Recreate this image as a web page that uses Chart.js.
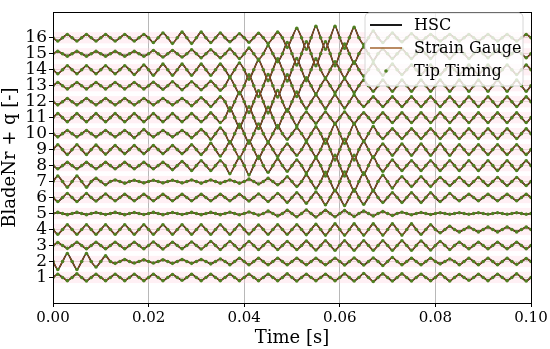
<!DOCTYPE html>
<html><head><meta charset="utf-8">
<script src="https://cdn.jsdelivr.net/npm/chart.js@4.4.0/dist/chart.umd.min.js"></script>
<style>html,body{margin:0;padding:0;background:#fff}#wrap{width:550px;height:349px}</style>
</head><body><div id="wrap"><canvas id="c" width="550" height="349"></canvas></div>
<script>
const blade1 = [0,.2,0,-.2, 0,.22,0,-.22, 0,.2,0,-.2, 0,.2,0,-.2, 0,.2,0,-.2, 0,.2,0,-.2, 0,.18,0,-.18, 0,.2,0,-.2, 0,.2,0,-.2, 0,.2,0,-.2, 0,.2,0,-.2, 0,.2,0,-.2, 0,.22,0,-.22, 0,.2,0,-.2, 0,.2,0,-.2, 0,.22,0,-.22, 0,.25,0,-.25, 0,.22,0,-.22, 0,.22,0,-.22, 0,.2,0,-.2, 0,.22,0,-.22, 0,.18,0,-.18, 0,.2,0,-.2, 0,.2,0,-.2, 0,.22,0,-.22, 0];
const blade2 = [0,-.5,0,.5, 0,-.5,0,.5, 0,-.35,0,.35, 0,-.12,0,.12, 0,-.1,0,.1, 0,-.1,0,.1, 0,-.12,0,.12, 0,-.12,0,.12, 0,-.15,0,.15, 0,-.2,0,.2, 0,-.2,0,.2, 0,-.2,0,.2, 0,-.2,0,.2, 0,-.2,0,.2, 0,-.2,0,.2, 0,-.22,0,.22, 0,-.22,0,.22, 0,-.25,0,.25, 0,-.2,0,.2, 0,-.2,0,.2, 0,-.15,0,.15, 0,-.2,0,.2, 0,-.2,0,.2, 0,-.2,0,.2, 0,-.18,0,.18, 0];
const blade3 = [0,.18,0,-.18, 0,.2,0,-.2, 0,.2,0,-.2, 0,.2,0,-.2, 0,.2,0,-.2, 0,.22,0,-.22, 0,.2,0,-.2, 0,.22,0,-.22, 0,.25,0,-.25, 0,.25,0,-.25, 0,.25,0,-.25, 0,.25,0,-.25, 0,.25,0,-.25, 0,.28,0,-.28, 0,.3,0,-.3, 0,.3,0,-.3, 0,.3,0,-.3, 0,.3,0,-.3, 0,.3,0,-.3, 0,.28,0,-.28, 0,.25,0,-.25, 0,.2,0,-.2, 0,.2,0,-.2, 0,.2,0,-.2, 0,.2,0,-.2, 0];
const blade4 = [0,-.3,0,.3, 0,-.3,0,.3, 0,-.3,0,.3, 0,-.3,0,.3, 0,-.3,0,.3, 0,-.3,0,.3, 0,-.3,0,.3, 0,-.3,0,.3, 0,-.3,0,.3, 0,-.3,0,.3, 0,-.28,0,.28, 0,-.3,0,.3, 0,-.3,0,.3, 0,-.32,0,.32, 0,-.35,0,.35, 0,-.35,0,.35, 0,-.35,0,.35, 0,-.35,0,.35, 0,-.35,0,.35, 0,-.3,0,.3, 0,-.2,0,.2, 0,-.15,0,.15, 0,-.15,0,.15, 0,-.15,0,.15, 0,-.15,0,.15, 0];
const blade5 = [0,.07,0,-.07, 0,.07,0,-.07, 0,.06,0,-.06, 0,.07,0,-.07, 0,.06,0,-.06, 0,.07,0,-.07, 0,.06,0,-.06, 0,.07,0,-.07, 0,.07,0,-.07, 0,.08,0,-.08, 0,.1,0,-.1, 0,.15,0,-.15, 0,.2,0,-.2, 0,.22,0,-.22, 0,.2,0,-.2, 0,.18,0,-.18, 0,.15,0,-.15, 0,.12,0,-.12, 0,.08,0,-.08, 0,.06,0,-.06, 0,.05,0,-.05, 0,.05,0,-.05, 0,.05,0,-.05, 0,.05,0,-.05, 0,.05,0,-.05, 0];
const blade6 = [0,-.25,0,.25, 0,-.25,0,.25, 0,-.22,0,.22, 0,-.2,0,.2, 0,-.2,0,.2, 0,-.2,0,.2, 0,-.2,0,.2, 0,-.2,0,.2, 0,-.2,0,.2, 0,-.2,0,.2, 0,-.22,0,.22, 0,-.25,0,.25, 0,-.3,0,.3, 0,-.35,0,.35, 0,-.45,0,.45, 0,-.5,0,.5, 0,-.42,0,.42, 0,-.3,0,.3, 0,-.3,0,.3, 0,-.3,0,.3, 0,-.25,0,.25, 0,-.2,0,.2, 0,-.2,0,.2, 0,-.2,0,.2, 0,-.2,0,.2, 0];
const blade7 = [0,.35,0,-.35, 0,.35,0,-.35, 0,.2,0,-.2, 0,.1,0,-.1, 0,.08,0,-.08, 0,.08,0,-.08, 0,.08,0,-.08, 0,.1,0,-.1, 0,.1,0,-.1, 0,.1,0,-.1, 0,.15,0,-.15, 0,.2,0,-.2, 0,.3,0,-.3, 0,.42,0,-.42, 0,.58,0,-.58, 0,.6,0,-.6, 0,.55,0,-.55, 0,.4,0,-.4, 0,.3,0,-.3, 0,.3,0,-.3, 0,.25,0,-.25, 0,.25,0,-.25, 0,.25,0,-.25, 0,.25,0,-.25, 0,.25,0,-.25, 0];
const blade8 = [0,-.2,0,.2, 0,-.2,0,.2, 0,-.2,0,.2, 0,-.2,0,.2, 0,-.2,0,.2, 0,-.2,0,.2, 0,-.25,0,.25, 0,-.3,0,.3, 0,-.3,0,.3, 0,-.5,0,.5, 0,-.58,0,.58, 0,-.42,0,.42, 0,-.35,0,.35, 0,-.45,0,.45, 0,-.65,0,.65, 0,-.65,0,.65, 0,-.55,0,.55, 0,-.35,0,.35, 0,-.3,0,.3, 0,-.3,0,.3, 0,-.3,0,.3, 0,-.3,0,.3, 0,-.3,0,.3, 0,-.3,0,.3, 0,-.3,0,.3, 0];
const blade9 = [0,.3,0,-.3, 0,.3,0,-.3, 0,.28,0,-.28, 0,.25,0,-.25, 0,.25,0,-.25, 0,.25,0,-.25, 0,.25,0,-.25, 0,.3,0,-.3, 0,.4,0,-.4, 0,.5,0,-.5, 0,.55,0,-.55, 0,.42,0,-.42, 0,.35,0,-.35, 0,.45,0,-.45, 0,.65,0,-.65, 0,.65,0,-.65, 0,.5,0,-.5, 0,.35,0,-.35, 0,.35,0,-.35, 0,.35,0,-.35, 0,.35,0,-.35, 0,.3,0,-.3, 0,.3,0,-.3, 0,.3,0,-.3, 0,.3,0,-.3, 0];
const blade10 = [0,-.2,0,.2, 0,-.2,0,.2, 0,-.2,0,.2, 0,-.2,0,.2, 0,-.25,0,.25, 0,-.2,0,.2, 0,-.2,0,.2, 0,-.25,0,.25, 0,-.35,0,.35, 0,-.58,0,.58, 0,-.6,0,.6, 0,-.5,0,.5, 0,-.35,0,.35, 0,-.42,0,.42, 0,-.6,0,.6, 0,-.6,0,.6, 0,-.45,0,.45, 0,-.3,0,.3, 0,-.3,0,.3, 0,-.3,0,.3, 0,-.3,0,.3, 0,-.3,0,.3, 0,-.3,0,.3, 0,-.3,0,.3, 0,-.3,0,.3, 0];
const blade11 = [0,.25,0,-.25, 0,.25,0,-.25, 0,.25,0,-.25, 0,.25,0,-.25, 0,.25,0,-.25, 0,.25,0,-.25, 0,.25,0,-.25, 0,.25,0,-.25, 0,.3,0,-.3, 0,.62,0,-.62, 0,.68,0,-.68, 0,.65,0,-.65, 0,.5,0,-.5, 0,.35,0,-.35, 0,.35,0,-.35, 0,.35,0,-.35, 0,.3,0,-.3, 0,.3,0,-.3, 0,.3,0,-.3, 0,.3,0,-.3, 0,.3,0,-.3, 0,.3,0,-.3, 0,.3,0,-.3, 0,.3,0,-.3, 0,.3,0,-.3, 0];
const blade12 = [0,-.2,0,.2, 0,-.2,0,.2, 0,-.2,0,.2, 0,-.2,0,.2, 0,-.2,0,.2, 0,-.2,0,.2, 0,-.2,0,.2, 0,-.25,0,.25, 0,-.3,0,.3, 0,-.58,0,.58, 0,-.68,0,.68, 0,-.7,0,.7, 0,-.6,0,.6, 0,-.42,0,.42, 0,-.42,0,.42, 0,-.4,0,.4, 0,-.3,0,.3, 0,-.3,0,.3, 0,-.3,0,.3, 0,-.3,0,.3, 0,-.3,0,.3, 0,-.3,0,.3, 0,-.3,0,.3, 0,-.3,0,.3, 0,-.3,0,.3, 0];
const blade13 = [0,.2,0,-.2, 0,.2,0,-.2, 0,.2,0,-.2, 0,.2,0,-.2, 0,.2,0,-.2, 0,.22,0,-.22, 0,.25,0,-.25, 0,.25,0,-.25, 0,.28,0,-.28, 0,.5,0,-.5, 0,.68,0,-.68, 0,.7,0,-.7, 0,.68,0,-.68, 0,.5,0,-.5, 0,.42,0,-.42, 0,.42,0,-.42, 0,.35,0,-.35, 0,.35,0,-.35, 0,.35,0,-.35, 0,.35,0,-.35, 0,.35,0,-.35, 0,.35,0,-.35, 0,.35,0,-.35, 0,.35,0,-.35, 0,.35,0,-.35, 0];
const blade14 = [0,-.25,0,.25, 0,-.25,0,.25, 0,-.25,0,.25, 0,-.25,0,.25, 0,-.3,0,.3, 0,-.35,0,.35, 0,-.35,0,.35, 0,-.35,0,.35, 0,-.35,0,.35, 0,-.42,0,.42, 0,-.6,0,.6, 0,-.68,0,.68, 0,-.7,0,.7, 0,-.68,0,.68, 0,-.5,0,.5, 0,-.5,0,.5, 0,-.4,0,.4, 0,-.35,0,.35, 0,-.3,0,.3, 0,-.3,0,.3, 0,-.3,0,.3, 0,-.3,0,.3, 0,-.3,0,.3, 0,-.3,0,.3, 0,-.3,0,.3, 0];
const blade15 = [0,.15,0,-.15, 0,.15,0,-.15, 0,.15,0,-.15, 0,.15,0,-.15, 0,.15,0,-.15, 0,.2,0,-.2, 0,.2,0,-.2, 0,.25,0,-.25, 0,.25,0,-.25, 0,.3,0,-.3, 0,.35,0,-.35, 0,.5,0,-.5, 0,.7,0,-.7, 0,.75,0,-.75, 0,.75,0,-.75, 0,.6,0,-.6, 0,.42,0,-.42, 0,.3,0,-.3, 0,.3,0,-.3, 0,.3,0,-.3, 0,.3,0,-.3, 0,.3,0,-.3, 0,.25,0,-.25, 0,.25,0,-.25, 0,.25,0,-.25, 0];
const blade16 = [0,-.2,0,.2, 0,-.2,0,.2, 0,-.2,0,.2, 0,-.2,0,.2, 0,-.2,0,.2, 0,-.3,0,.3, 0,-.35,0,.35, 0,-.35,0,.35, 0,-.3,0,.3, 0,-.25,0,.25, 0,-.28,0,.28, 0,-.35,0,.35, 0,-.6,0,.6, 0,-.72,0,.72, 0,-.72,0,.72, 0,-.65,0,.65, 0,-.42,0,.42, 0,-.3,0,.3, 0,-.25,0,.25, 0,-.2,0,.2, 0,-.2,0,.2, 0,-.2,0,.2, 0,-.2,0,.2, 0,-.2,0,.2, 0,-.2,0,.2, 0];

const bladeNumbers = [1,2,3,4,5,6,7,8,9,10,11,12,13,14,15,16];
const xTickValues = [0, 0.02, 0.04, 0.06, 0.08, 0.10];
const xTickLabels = ['0.00','0.02','0.04','0.06','0.08','0.10'];
const yTickValues = [1,2,3,4,5,6,7,8,9,10,11,12,13,14,15,16];
const seriesNames = ['HSC', 'Strain Gauge', 'Tip Timing'];
const sampleStep = 0.001;

const blades = [blade1,blade2,blade3,blade4,blade5,blade6,blade7,blade8,blade9,blade10,blade11,blade12,blade13,blade14,blade15,blade16];
const serif = "'DejaVu Serif', serif";
const colHSC = '#000000';
const colSG = 'rgba(160,92,38,0.9)';
const colTT = '#4f8020';

const datasets = [];
blades.forEach((vals, bi) => {
  const base = bladeNumbers[bi];
  const pts = vals.map((v, i) => ({ x: +(i * sampleStep).toFixed(3), y: base + v }));
  datasets.push({ label: seriesNames[0], data: pts, borderColor: colHSC, borderWidth: 1.6, pointRadius: 0, tension: 0.25, order: 2 });
  datasets.push({ label: seriesNames[1], data: pts, borderColor: colSG, borderWidth: 1.1, pointRadius: 0, tension: 0.25, order: 1 });
  datasets.push({ label: seriesNames[2], data: pts, showLine: false, pointRadius: 1.8, pointBorderWidth: 0, pointBackgroundColor: colTT, order: 0 });
});

const framePlugin = {
  id: 'frame',
  beforeDatasetsDraw(chart) {
    // faint pink bands around each blade line
    const { ctx, chartArea: a, scales } = chart;
    ctx.save();
    ctx.fillStyle = 'rgba(255,205,220,0.3)';
    bladeNumbers.forEach(b => {
      const y1 = scales.y.getPixelForValue(b + 0.35), y2 = scales.y.getPixelForValue(b - 0.35);
      ctx.fillRect(a.left, y1, a.right - a.left, y2 - y1);
    });
    ctx.restore();
  },
  afterDraw(chart) {
    const { ctx, chartArea: a } = chart;
    ctx.save();
    ctx.strokeStyle = '#000'; ctx.lineWidth = 1;
    ctx.strokeRect(Math.round(a.left) + 0.5, Math.round(a.top) + 0.5, Math.round(a.right - a.left), Math.round(a.bottom - a.top));
    // legend
    const lx = 365, ly = 13, lw = 158, lh = 73, r = 4;
    ctx.beginPath();
    ctx.moveTo(lx + r, ly); ctx.lineTo(lx + lw - r, ly); ctx.quadraticCurveTo(lx + lw, ly, lx + lw, ly + r);
    ctx.lineTo(lx + lw, ly + lh - r); ctx.quadraticCurveTo(lx + lw, ly + lh, lx + lw - r, ly + lh);
    ctx.lineTo(lx + r, ly + lh); ctx.quadraticCurveTo(lx, ly + lh, lx, ly + lh - r);
    ctx.lineTo(lx, ly + r); ctx.quadraticCurveTo(lx, ly, lx + r, ly); ctx.closePath();
    ctx.fillStyle = 'rgba(255,255,255,0.8)'; ctx.fill();
    ctx.strokeStyle = '#d6d6d6'; ctx.stroke();
    const rows = [25, 48, 71];
    ctx.lineWidth = 1.8; ctx.strokeStyle = colHSC;
    ctx.beginPath(); ctx.moveTo(370, rows[0]); ctx.lineTo(402, rows[0]); ctx.stroke();
    ctx.lineWidth = 1.6; ctx.strokeStyle = colSG;
    ctx.beginPath(); ctx.moveTo(370, rows[1]); ctx.lineTo(402, rows[1]); ctx.stroke();
    ctx.fillStyle = colTT; ctx.beginPath(); ctx.arc(386, rows[2], 1.8, 0, Math.PI * 2); ctx.fill();
    ctx.fillStyle = '#000'; ctx.font = "16px " + serif; ctx.textBaseline = 'middle'; ctx.textAlign = 'left';
    seriesNames.forEach((n, i) => ctx.fillText(n, 414, rows[i] + 1));
    ctx.restore();
  }
};

new Chart(document.getElementById('c'), {
  type: 'line',
  data: { datasets },
  options: {
    responsive: false, animation: false, devicePixelRatio: 1,
    layout: { padding: { top: 6, right: 19, left: 0, bottom: 0 } },
    plugins: { legend: { display: false }, tooltip: { enabled: false } },
    scales: {
      x: {
        type: 'linear', min: 0, max: 0.1,
        afterBuildTicks: s => { s.ticks = xTickValues.map(v => ({ value: v })); },
        afterFit: s => { s.height = 46; },
        ticks: { autoSkip: false, maxRotation: 0, color: '#000', font: { family: serif, size: 15 }, padding: 2,
                 callback: (v, i) => xTickLabels[i] },
        grid: { color: 'rgba(0,0,0,0.28)', tickLength: 4, tickColor: '#000' },
        border: { color: '#000' },
        title: { display: true, text: 'Time [s]', color: '#000', font: { family: serif, size: 18 }, padding: { top: 0, bottom: 0 } }
      },
      y: {
        min: -0.6, max: 17.6,
        afterBuildTicks: s => { s.ticks = yTickValues.map(v => ({ value: v })); },
        afterFit: s => { s.width = 53; },
        ticks: { autoSkip: false, color: '#000', font: { family: serif, size: 17 }, padding: 2,
                 callback: (v, i) => String(yTickValues[i]) },
        grid: { color: 'rgba(200,150,165,0.45)', tickLength: 4, tickColor: '#000' },
        border: { color: '#000' },
        title: { display: true, text: 'BladeNr + q [-]', color: '#000', font: { family: serif, size: 18 }, padding: { top: 0, bottom: 0 } }
      }
    }
  },
  plugins: [framePlugin]
});
</script>
</body></html>
